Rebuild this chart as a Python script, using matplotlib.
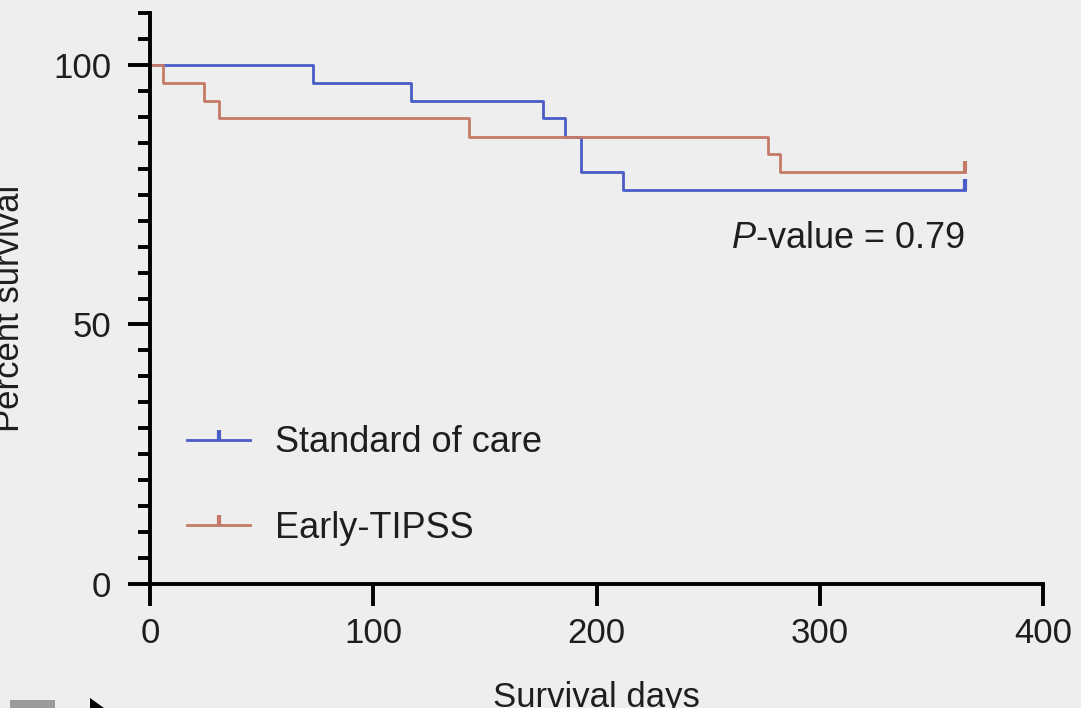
import matplotlib
matplotlib.use("Agg")
import matplotlib.pyplot as plt
from matplotlib.markers import TICKUP
from matplotlib.lines import Line2D
from matplotlib.patches import Rectangle, Polygon

# Kaplan-Meier steps (day of event, percent surviving after it)
soc_days = [0, 73, 117, 176, 186, 193, 212, 365]
soc_surv = [100, 96.6, 93.1, 89.7, 86.2, 79.3, 75.9, 75.9]
tipss_days = [0, 6, 24, 31, 143, 277, 282, 365]
tipss_surv = [100, 96.6, 93.1, 89.7, 86.2, 82.8, 79.3, 79.3]

labels = ["Standard of care", "Early-TIPSS"]
p_value = 0.79

blue = "#4a5cc6"
red = "#c47a66"
bg = "#eeeeee"
ink = "#1e1e1e"

plt.rcParams["font.family"] = ["Liberation Sans", "DejaVu Sans"]
plt.rcParams["mathtext.fontset"] = "custom"
plt.rcParams["mathtext.it"] = "Liberation Sans:italic"
plt.rcParams["mathtext.rm"] = "Liberation Sans"

fig = plt.figure(figsize=(10.81, 7.08), dpi=100, facecolor=bg)
ax = fig.add_axes([150 / 1081, 1 - 584 / 708, (1043 - 150) / 1081, (584 - 13) / 708])
ax.set_facecolor(bg)

for days, surv, col in [(soc_days, soc_surv, blue), (tipss_days, tipss_surv, red)]:
    ax.step(days, surv, where="post", color=col, lw=2.0, clip_on=False)
    # censored at end of follow-up
    ax.plot(days[-1], surv[-1], marker=TICKUP, color=col, ms=8, mew=3, clip_on=False)

ax.set_xlim(0, 400)
ax.set_ylim(0, 110)
ax.set_xticks([0, 100, 200, 300, 400])
ax.set_yticks([0, 50, 100])
ax.set_yticks(range(0, 111, 5), minor=True)

for s in ["top", "right"]:
    ax.spines[s].set_visible(False)
for s in ["left", "bottom"]:
    ax.spines[s].set_linewidth(2.8)
    ax.spines[s].set_color("black")

ax.tick_params(which="major", length=16, width=2.8, labelsize=25, labelcolor=ink)
ax.tick_params(axis="y", which="major", pad=12)
ax.tick_params(axis="x", which="major", pad=8)
ax.tick_params(which="minor", length=9, width=2.8)
ax.tick_params(axis="x", which="minor", length=0)

ax.text(365, 66.5, r"$\it{P}$-value = " + f"{p_value}", ha="right", va="center",
        fontsize=26, color=ink)

handles = [Line2D([], [], color=blue, lw=2.0, marker=TICKUP, ms=7, mew=3),
           Line2D([], [], color=red, lw=2.0, marker=TICKUP, ms=7, mew=3)]
ax.legend(handles, labels, loc="upper left", bbox_to_anchor=(0.005, 0.335),
          frameon=False, fontsize=26, numpoints=1, handlelength=1.75,
          handletextpad=0.7, labelspacing=1.4, labelcolor=ink)

fig.text(10 / 1081, 1 - 308 / 708, "Percent survival", rotation=90, ha="center",
         va="center", fontsize=25, color=ink)
fig.text(596 / 1081, 1 - 697 / 708, "Survival days", ha="center", va="center",
         fontsize=25, color=ink)

# player controls peeking in at the lower left
fig.patches.append(Rectangle((10 / 1081, 0), 45 / 1081, 8 / 708, transform=fig.transFigure,
                             color="#9a9a9a", lw=0))
fig.patches.append(Polygon([(90 / 1081, 10 / 708), (90 / 1081, 0), (104 / 1081, 0)],
                           closed=True, transform=fig.transFigure, color="black", lw=0))

fig.savefig("out.png", dpi=100, facecolor=bg)
